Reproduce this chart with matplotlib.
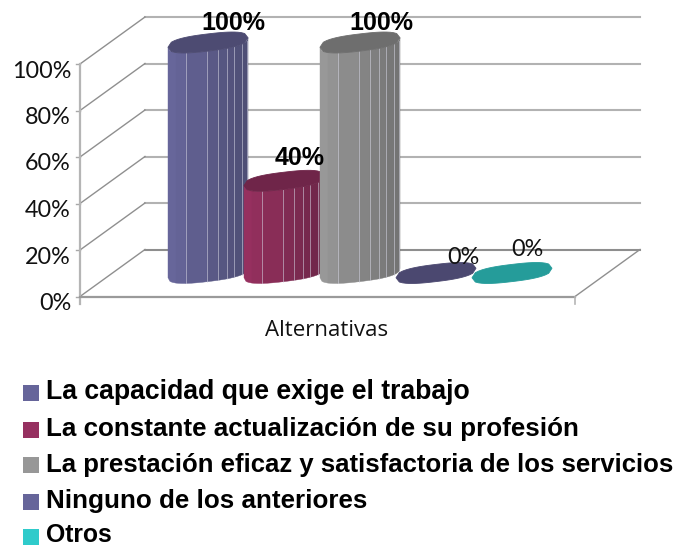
import numpy as np
import matplotlib
matplotlib.use('Agg')
import matplotlib.pyplot as plt
from matplotlib.colors import to_rgb
from matplotlib.patches import Polygon, Rectangle

series_names = ['La capacidad que exige el trabajo',
                'La constante actualización de su profesión',
                'La prestación eficaz y satisfactoria de los servicios',
                'Ninguno de los anteriores',
                'Otros']
values = [100, 40, 100, 0, 0]
value_labels = ['100%', '40%', '100%', '0%', '0%']
ticks = [0, 20, 40, 60, 80, 100]
category = 'Alternativas'

legend_colors = ['#66659a', '#963060', '#979797', '#66659a', '#2fcbcb']
side_light = ['#68679c', '#983160', '#9a9a9a', '#68679c', '#2fcbcb']
side_dark = ['#4e4e74', '#6d2648', '#727272', '#4e4e74', '#239a98']
top_colors = ['#4d4b72', '#6f2549', '#6e6e6e', '#4b4870', '#259c9a']

# oblique projection of the chart box, in pixels
X0, X1 = 80, 575
Y0 = 296.5
PX_PER_PCT = 2.325
BAR_PX_PER_PCT = 2.305
DEPTH_X, DEPTH_Y = 65, 47
BAR_STEP = 76
RIM_HALF_W, RIM_TILT, RIM_HALF_H, RIM_POWER = 40, 4.75, 8.6, 2.6

# facet edges across a cylinder's front, -1 left side to 1 right side
FACETS = [-1, -0.8, -0.55, -0.025, 0.25, 0.475, 0.65, 0.85, 0.975, 1]
FACET_LINES = [-0.55, -0.025, 0.25, 0.475, 0.65, 0.85, 0.975]

LABEL_POS = [(233, 23), (300, 158), (381, 23), (463, 258), (527, 250)]
LEGEND_BOX_TOP = [385, 422, 457, 494, 529]
LEGEND_BASE = [399, 436, 472, 508, 542]
LEGEND_SIZE = [19.2, 18.7, 18.5, 18.7, 17.8]

BODY_FONT = ['Lato', 'DejaVu Sans']
BOLD_FONT = ['Liberation Sans', 'DejaVu Sans']


def wall(pct, depth=0.0):
    """Pixel height of a value at a given depth (0 front, 1 back)."""
    return Y0 - pct * PX_PER_PCT - depth * DEPTH_Y


def rim(cx, cy, u, side=1):
    """Point on a cylinder's rounded rim; side=1 is the front edge, -1 the back."""
    s = (1 - abs(u) ** RIM_POWER) ** (1 / RIM_POWER)
    return (cx + RIM_HALF_W * u, cy - RIM_TILT * u + side * RIM_HALF_H * s)


def draw_cylinder(ax, i, pct):
    cx = (X0 + X1 + DEPTH_X) / 2 + BAR_STEP * (i - 2)
    base = wall(0, 0.5)
    top = base - pct * BAR_PX_PER_PCT
    light, dark = np.array(to_rgb(side_light[i])), np.array(to_rgb(side_dark[i]))

    if pct > 0:
        for a, b in zip(FACETS[:-1], FACETS[1:]):
            frac = ((a + b) / 2 + 1) / 2
            steps = np.linspace(a, b, 5)
            low = [rim(cx, base, u) for u in steps]
            high = [rim(cx, top, u) for u in steps[::-1]]
            shade = light + (dark - light) * frac
            ax.add_patch(Polygon(low + high, closed=True, lw=0.3, fc=shade, ec=shade,
                                 zorder=3 + i))
        for u in FACET_LINES:
            x, y0 = rim(cx, base, u)
            _, y1 = rim(cx, top, u)
            ax.plot([x, x], [y0, y1], color='#d8d8e6', lw=0.7, alpha=0.55, zorder=3 + i)

    steps = np.linspace(-1, 1, 25)
    outline = [rim(cx, top, u, 1) for u in steps] + [rim(cx, top, u, -1) for u in steps[::-1]]
    ax.add_patch(Polygon(outline, closed=True, fc=top_colors[i], ec=top_colors[i],
                         lw=0.6, zorder=3 + i))


fig = plt.figure(figsize=(6.74, 5.46), dpi=100)
ax = fig.add_axes([0, 0, 1, 1])
ax.set_xlim(0, 674)
ax.set_ylim(546, 0)
ax.axis('off')

# back wall gridlines with their slanted side-wall continuations
for t in ticks:
    col = '#8e8e8e' if t == 0 else '#b2b2b2'
    ax.plot([X0 + DEPTH_X, X1 + DEPTH_X], [wall(t, 1)] * 2, color=col, lw=1.5, zorder=1)
    ax.plot([X0, X0 + DEPTH_X], [wall(t), wall(t, 1)], color='#8f8f8f', lw=1.0, zorder=1)
    ax.plot([X0 - 4, X0], [wall(t)] * 2, color='#a8a8a8', lw=1.0, zorder=1)
    ax.text(71, wall(t) + 7, f'{t}%', ha='right', va='center', fontsize=16.8,
            family=BODY_FONT, color='#111111')

# front axes and floor edge
ax.plot([X0, X0], [wall(100), Y0 + 7], color='#b5b5b5', lw=1.6, zorder=2)
ax.plot([X0, X1], [Y0, Y0], color='#9a9a9a', lw=1.6, zorder=2)
ax.plot([X1, X1], [Y0, Y0 + 7], color='#b5b5b5', lw=1.2, zorder=2)
ax.plot([X1, X1 + DEPTH_X], [Y0, wall(0, 1)], color='#8f8f8f', lw=1.0, zorder=1)

for i, v in enumerate(values):
    draw_cylinder(ax, i, v)

for i, (lab, v) in enumerate(zip(value_labels, values)):
    x, y = LABEL_POS[i]
    if v > 0:
        ax.text(x, y, lab, ha='center', va='center', fontsize=18, fontweight='bold',
                family=BOLD_FONT, color='black', zorder=10)
    else:
        ax.text(x, y, lab, ha='center', va='center', fontsize=16.8,
                family=BODY_FONT, color='#111111', zorder=10)

ax.text(327, 331, category, ha='center', va='center', fontsize=16,
        family=['Open Sans', 'DejaVu Sans'], color='#111111')

# legend rows
for i, name in enumerate(series_names):
    ax.add_patch(Rectangle((23, LEGEND_BOX_TOP[i]), 16, 16, fc=legend_colors[i], ec='none'))
    ax.text(46, LEGEND_BASE[i], name, ha='left', va='baseline', fontsize=LEGEND_SIZE[i],
            fontweight='bold', family=BOLD_FONT, color='black')

fig.savefig('out.png', dpi=100)
